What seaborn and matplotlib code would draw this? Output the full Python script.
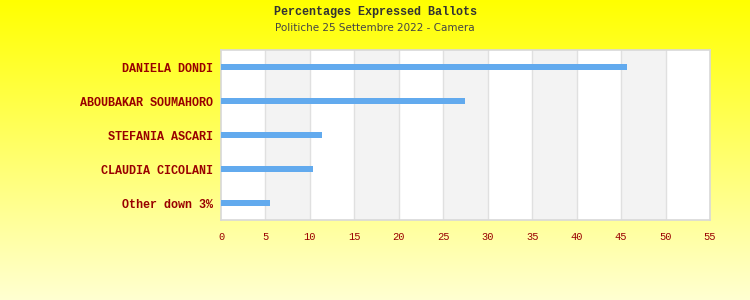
import numpy as np
import pandas as pd
import matplotlib
matplotlib.use("Agg")
import matplotlib.pyplot as plt
import seaborn as sns

candidates = ["DANIELA DONDI", "ABOUBAKAR SOUMAHORO", "STEFANIA ASCARI", "CLAUDIA CICOLANI", "Other down 3%"]
percentages = [45.7, 27.4, 11.4, 10.3, 5.5]
x_ticks = [0, 5, 10, 15, 20, 25, 30, 35, 40, 45, 50, 55]

title = "Percentages Expressed Ballots"
subtitle = "Politiche 25 Settembre 2022 - Camera"

df = pd.DataFrame({"candidate": candidates, "pct": percentages})

sns.set_theme(style="white")
plt.rcParams["font.family"] = ["DejaVu Sans"]

fig = plt.figure(figsize=(7.5, 3.0), dpi=100)

# gradient background
bg = fig.add_axes([0, 0, 1, 1], zorder=-10)
grad = np.linspace(0, 1, 256).reshape(-1, 1)
top = np.array([1.0, 1.0, 0.0])
bot = np.array([1.0, 1.0, 0.82])
cols = top[None, None, :] + (bot - top)[None, None, :] * grad[:, :, None]
bg.imshow(cols, aspect="auto", extent=[0, 1, 0, 1], origin="upper")
bg.axis("off")

ax = fig.add_axes([221 / 750, 1 - 220 / 300, (710 - 221) / 750, (220 - 50) / 300])
ax.set_facecolor("white")

# alternating bands
for i, t in enumerate(x_ticks[:-1]):
    if i % 2 == 1:
        ax.axvspan(t, x_ticks[i + 1], color="#f3f3f3", zorder=0, lw=0)
for t in x_ticks[1:-1]:
    ax.axvline(t, color="#e0e0e0", lw=1.0, zorder=1)

sns.barplot(data=df, x="pct", y="candidate", orient="h", color="#62aaee",
            saturation=1, width=0.15, ax=ax, zorder=3, linewidth=0,
            edgecolor="none")

ax.set_xlim(0, 55)
ax.set_ylim(4.5, -0.5)
ax.set_xticks(x_ticks)
ax.set_xticklabels([str(t) for t in x_ticks], family="Liberation Mono",
                   fontsize=7.5, color="#990000")
ax.set_yticks(range(len(candidates)))
ax.set_yticklabels(candidates, family="Liberation Mono", fontsize=8.5,
                   fontweight="bold", color="#990000")
ax.tick_params(axis="x", length=0, pad=9)
ax.tick_params(axis="y", length=0, pad=6)
ax.set_xlabel("")
ax.set_ylabel("")
for s in ax.spines.values():
    s.set_color("#d8d8d8")
    s.set_linewidth(1.2)

fig.text(0.5, 1 - 12 / 300, title, ha="center", va="center",
         family="Liberation Mono", fontweight="bold", fontsize=8.5, color="#333333")
fig.text(0.5, 1 - 28 / 300, subtitle, ha="center", va="center",
         family="DejaVu Sans", fontsize=7.5, color="#444444")

fig.savefig("out.png", dpi=100)
